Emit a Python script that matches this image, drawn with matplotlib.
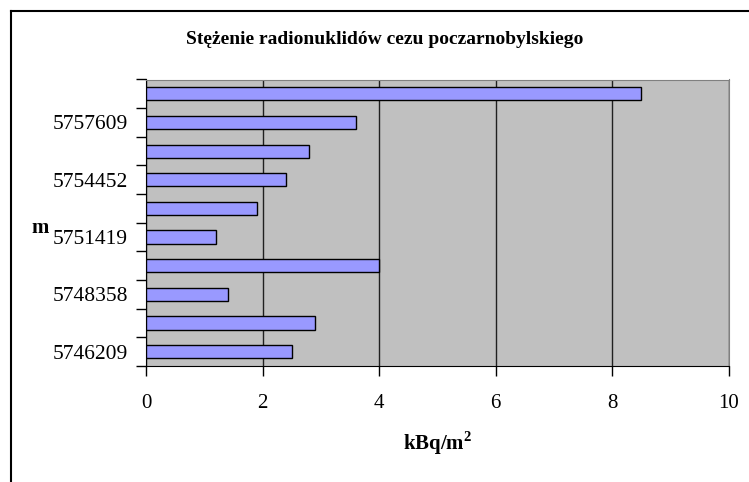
import matplotlib.pyplot as plt
import numpy as np
from matplotlib.lines import Line2D

# dane: kategorie od dołu do góry
labels = ['5746209', '', '5748358', '', '5751419', '', '5754452', '', '5757609', '']
values = [2.5, 2.9, 1.4, 4.0, 1.2, 1.9, 2.4, 2.8, 3.6, 8.5]
xticks = [0, 2, 4, 6, 8, 10]

plt.rcParams['font.family'] = ['Liberation Serif', 'DejaVu Serif']
plt.rcParams['mathtext.fontset'] = 'custom'
plt.rcParams['mathtext.rm'] = 'Liberation Serif'
plt.rcParams['mathtext.bf'] = 'Liberation Serif:bold'

fig = plt.figure(figsize=(7.49, 4.82), dpi=100)
ax = fig.add_axes([146/749, 1 - 366/482, (728.7 - 146)/749, (366 - 79.5)/482])

ypos = np.arange(len(values))
ax.barh(ypos, values, height=0.46, color='#9999FF', edgecolor='black', linewidth=1, zorder=3)

ax.set_facecolor('#C0C0C0')
ax.set_xlim(0, 10)
ax.set_ylim(-0.5, len(values) - 0.5)
ax.set_xticks(xticks)
ax.set_xticklabels([str(t) for t in xticks], fontsize=15)
ax.xaxis.grid(True, color='#202020', linewidth=1, zorder=1)
ax.tick_params(axis='x', length=7, width=1, pad=13, color='black')

# znaczniki między kategoriami, etykiety w środku
ax.set_yticks(np.arange(len(values) + 1) - 0.5)
ax.set_yticklabels([])
ax.set_yticks(ypos, minor=True)
ax.set_yticklabels(labels, minor=True, fontsize=15.5)
ax.tick_params(axis='y', which='major', length=7, width=1, color='black')
ax.tick_params(axis='y', which='minor', length=0, pad=13)

for s in ['top', 'right']:
    ax.spines[s].set_color('#808080')
for s in ['left', 'bottom']:
    ax.spines[s].set_color('black')

ax.set_xlabel('kBq/m$^\\mathbf{2}$', fontsize=15, fontweight='bold', labelpad=12)
fig.text(40/749, 1 - 228/482, 'm', fontsize=15, fontweight='bold', ha='center', va='center')
fig.text(385/749, 1 - 40/482, 'Stężenie radionuklidów cezu poczarnobylskiego',
         fontsize=14, fontweight='bold', ha='center', va='center')

# ramka wykresu
fig.add_artist(Line2D([11/749, 11/749], [0, 1 - 11/482], color='black', linewidth=1.5))
fig.add_artist(Line2D([11/749, 1], [1 - 11/482, 1 - 11/482], color='black', linewidth=1.5))

plt.savefig('out.png', dpi=100)
